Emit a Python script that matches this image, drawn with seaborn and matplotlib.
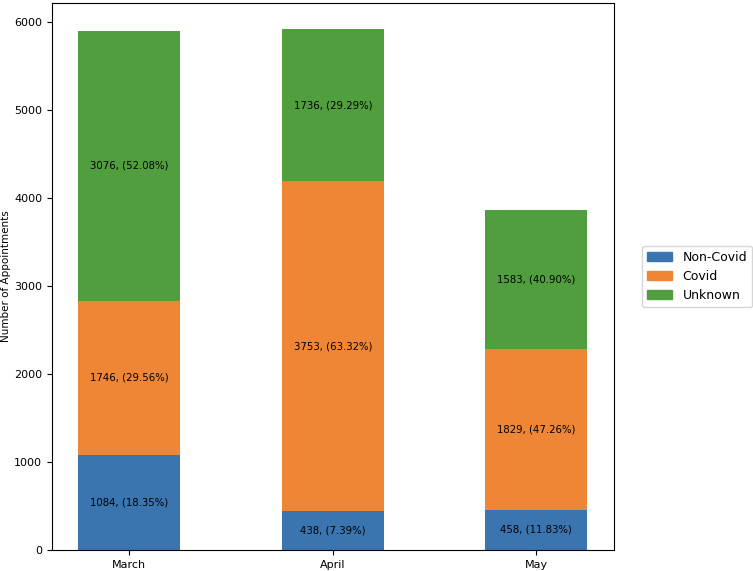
import numpy as np
import pandas as pd
import matplotlib
matplotlib.use('Agg')
import matplotlib.pyplot as plt
from matplotlib.patches import Patch
import seaborn as sns

# dados
months = ['March', 'April', 'May']
non_covid = [1084, 438, 458]
covid = [1746, 3753, 1829]
unknown = [3076, 1736, 1583]
series_names = ['Non-Covid', 'Covid', 'Unknown']
colors = ['#3a75b0', '#ef8636', '#519e3e']

df = pd.DataFrame({'month': months, 'Non-Covid': non_covid,
                   'Covid': covid, 'Unknown': unknown})
totals = df[series_names].sum(axis=1).values

fig = plt.figure(figsize=(7.53, 5.71), dpi=100)
ax = fig.add_axes([0.069, 0.037, 0.746, 0.958])

bottom = np.zeros(len(months))
for name, col in zip(series_names, colors):
    vals = df[name].values
    sns.barplot(x=df['month'], y=vals, color=col, width=0.5, saturation=1,
                errorbar=None, bottom=bottom, ax=ax)
    # anotações no centro de cada segmento
    for i, v in enumerate(vals):
        pct = v / totals[i] * 100
        ax.text(i, bottom[i] + v / 2, f'{v}, ({pct:.2f}%)',
                ha='center', va='center', fontsize=7.3)
    bottom = bottom + vals

ax.set_xlim(-0.38, 2.38)
ax.set_ylim(0, totals.max() * 1.05)
ax.set_xlabel('')
ax.set_ylabel('Number of Appointments', fontsize=7.5, labelpad=2)
ax.tick_params(labelsize=8)

handles = [Patch(color=c, label=n) for n, c in zip(series_names, colors)]
ax.legend(handles=handles, loc='center left', bbox_to_anchor=(1.04, 0.5),
          fontsize=9)

plt.savefig('out.png', dpi=100)
